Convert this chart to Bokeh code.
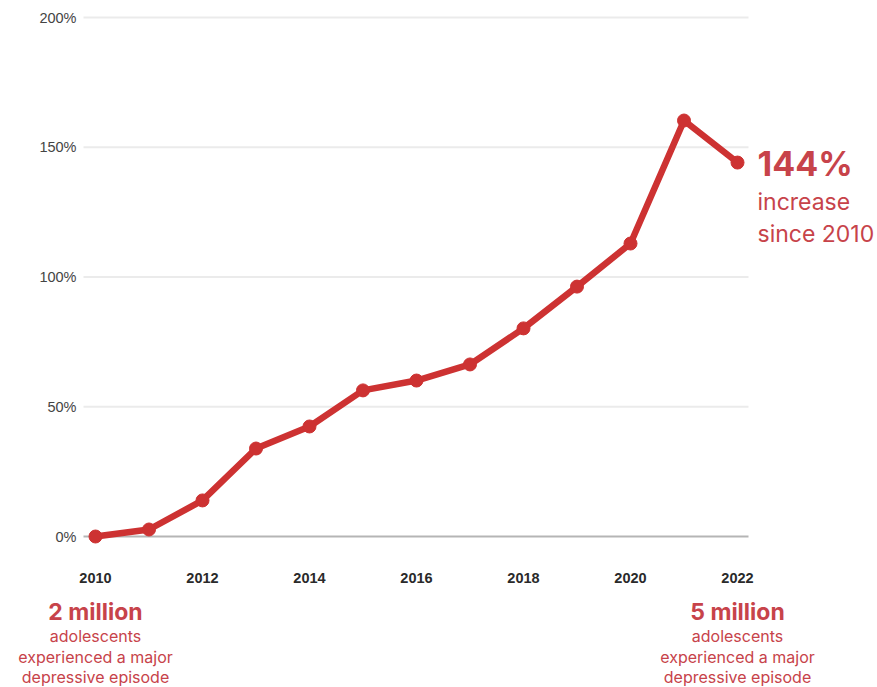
from bokeh.plotting import figure
from bokeh.models import Range1d
from bokeh.core.properties import value
from bokeh.embed import file_html
from bokeh.resources import INLINE

years = [2010, 2011, 2012, 2013, 2014, 2015, 2016, 2017, 2018, 2019, 2020, 2021, 2022]
pct_increase = [0, 2.7, 13.9, 33.9, 42.4, 56.3, 60.1, 66.3, 80.2, 96.3, 112.9, 160.3, 144.1]
y_ticks = [0, 50, 100, 150, 200]
y_tick_labels = ["0%", "50%", "100%", "150%", "200%"]
x_ticks = [2010, 2012, 2014, 2016, 2018, 2020, 2022]
x_tick_labels = ["2010", "2012", "2014", "2016", "2018", "2020", "2022"]
end_label = ["144%", "increase", "since 2010"]
start_note = ["2 million", "adolescents", "experienced a major", "depressive episode"]
end_note = ["5 million", "adolescents", "experienced a major", "depressive episode"]

RED = "#cd3232"
TXT_RED = "#c7434a"

# pixel geometry of the plotting area (px per year / px per percent)
PX_YR = 53.5
PX_PCT = 2.595
X0_PX, Y0_PX = 95, 536
W, H = 877, 687

p = figure(width=W, height=H, output_backend="svg", toolbar_location=None,
           x_axis_location=None, y_axis_location=None,
           x_range=Range1d(years[0] - X0_PX / PX_YR, years[0] + (W - X0_PX) / PX_YR),
           y_range=Range1d(-(H - Y0_PX) / PX_PCT, Y0_PX / PX_PCT),
           min_border=0)
p.outline_line_color = None
p.grid.visible = False
p.background_fill_color = "white"
p.border_fill_color = "white"

gx0 = years[0] - 12 / PX_YR
gx1 = years[-1] + 11 / PX_YR

# gridlines
grid_y = y_ticks[1:]
p.segment(x0=[gx0] * len(grid_y), x1=[gx1] * len(grid_y), y0=grid_y, y1=grid_y,
          line_color="#ebebeb", line_width=2)
p.segment(x0=[gx0], x1=[gx1], y0=[y_ticks[0]], y1=[y_ticks[0]], line_color="#b5b5b5", line_width=2)

# y tick labels
p.text(x=[years[0] - 19 / PX_YR] * len(y_ticks), y=y_ticks, text=y_tick_labels,
       text_font=value("Liberation Sans"), text_font_size="14.5px", text_color="#444444",
       text_align="right", text_baseline="middle")
# x tick labels
p.text(x=x_ticks, y=[-41 / PX_PCT] * len(x_ticks), text=x_tick_labels,
       text_font=value("Liberation Sans"), text_font_size="14.5px", text_font_style="bold",
       text_color="#2a2a2a", text_align="center", text_baseline="middle")

# data
p.line(years, pct_increase, line_color=RED, line_width=6.5, line_join="round")
p.scatter(years, pct_increase, size=13, fill_color=RED, line_color=RED)

# right annotation
ax = years[-1] + 20 / PX_YR
p.text(x=[ax], y=[(Y0_PX - 163) / PX_PCT], text=[end_label[0]], text_font=value("Inter"),
       text_font_size="34px", text_font_style="bold", text_color=TXT_RED,
       text_align="left", text_baseline="middle")
p.text(x=[ax, ax], y=[(Y0_PX - 201) / PX_PCT, (Y0_PX - 233) / PX_PCT], text=end_label[1:],
       text_font=value("Inter"), text_font_size="23px", text_color=TXT_RED,
       text_align="left", text_baseline="middle")

# bottom notes
note_px = [611, 635, 656, 676]
note_ys = [(Y0_PX - v) / PX_PCT for v in note_px]
for xv, note in ((years[0], start_note), (years[-1], end_note)):
    p.text(x=[xv], y=[note_ys[0]], text=[note[0]], text_font=value("Inter"),
           text_font_size="23px", text_font_style="bold", text_color=TXT_RED,
           text_align="center", text_baseline="middle")
    p.text(x=[xv] * 3, y=note_ys[1:], text=note[1:], text_font=value("Inter"),
           text_font_size="16px", text_color=TXT_RED,
           text_align="center", text_baseline="middle")

open("out.html", "w").write(file_html(p, INLINE))
